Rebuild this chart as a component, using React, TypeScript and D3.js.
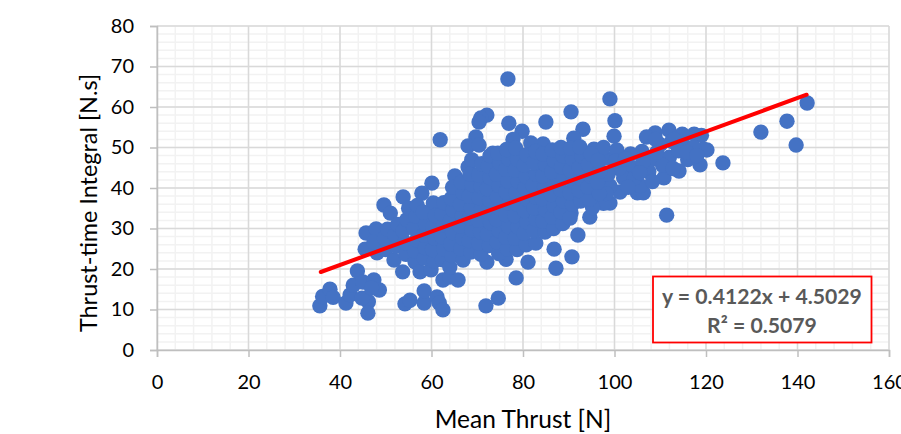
import React, { useEffect, useRef } from "react";
import * as d3 from "d3";

type Pt = [number, number];

const xTicks = [0, 20, 40, 60, 80, 100, 120, 140, 160];
const yTicks = [0, 10, 20, 30, 40, 50, 60, 70, 80];
const xMinor = d3.range(0, 161, 4);
const yMinor = d3.range(0, 81, 2);

const slope = 0.4122;
const intercept = 4.5029;
const trendRange = [35.8, 142];

// mean thrust, thrust-time integral
const lowCluster: Pt[] = [
  [35.6, 10.9], [36.2, 13.2], [37.8, 15], [38.5, 13], [41.3, 11.6], [42.2, 13.6], [42.9, 16], [43.8, 19.5],
  [45, 16.8], [47.4, 17.3], [48.6, 14.8], [46.2, 11.9], [46.1, 9.1], [44.8, 12.8], [46.9, 15.3], [53.7, 19.3],
  [54.2, 11.4], [55.3, 12.3], [58.4, 11.6], [58.4, 14.6], [61.2, 13.1], [61.7, 11.6], [62.5, 9.9], [62.5, 17.3],
  [64, 18], [65.8, 17.3], [71.9, 10.9], [74.6, 12.8], [78.5, 17.8], [81.1, 21.7], [86.8, 24.9], [87.2, 20.2],
  [90.7, 23], [92, 28.4], [94.6, 32.8], [72.1, 21.7], [76.3, 22.4],
];

const upperOutliers: Pt[] = [
  [76.7, 66.9], [99, 62], [100.1, 56.6], [99.9, 52.8], [90.5, 58.8], [85, 56.3], [72.1, 58], [70.8, 57.3],
  [70.4, 56.3], [76.9, 56], [79.8, 54], [77.8, 52], [93.1, 54.5], [91.1, 52.3], [84.4, 50.9], [81.7, 51.1],
  [69.7, 52.6], [68, 50.4], [61.9, 51.9], [73.4, 48.6], [70.4, 50.6], [60.1, 41.2], [57.9, 38.7], [53.8, 37.8],
  [49.6, 35.8], [51, 33.8], [60.4, 36.3], [65.1, 43], [68, 45.2],
];

const rightTail: Pt[] = [
  [123.7, 46.2], [120.2, 49.4], [119.4, 49.6], [119, 53], [117.4, 53.3], [114.8, 53.3], [111.9, 54.3], [108.9, 53.6],
  [107, 52.6], [118.7, 45.7], [114.1, 44.2], [110.8, 42.5], [105, 38.8], [106.3, 38.8], [105.6, 40.6], [101.2, 39],
  [99, 36.3], [111.4, 33.3], [90.5, 33.8], [132, 53.8], [137.7, 56.5], [139.7, 50.6], [142.1, 61],
  [112.5, 51.5], [115.5, 50.2], [110, 50.7], [106, 49], [108, 47], [112, 47.6], [116, 47], [114, 49.2], [103.5, 48.4],
  [104, 45], [107.5, 44], [110.5, 45.6], [102, 42.5], [99, 40.5], [101, 44.8], [98, 47.4], [95.5, 49.6], [97.6, 50],
  [100.5, 49.4], [117.3, 50], [109, 52], [113, 52], [98.6, 43.4], [100.2, 46.6], [102.4, 47.2], [104.3, 42.4],
  [106.2, 46.4], [108.3, 41.6], [97.6, 36.2], [98.2, 38.6], [95.2, 35.2], [103, 40.2], [105.5, 43.8], [109.2, 48.8],
  [112.8, 44.8], [115.8, 48.8], [118, 48],
];

const leftBody: Pt[] = [
  [45.7, 28.9], [47.9, 29.9], [45.5, 24.9], [48.1, 24], [47.4, 26.6], [50, 24.8], [49.7, 27.6], [50.4, 29.8],
  [51.8, 22.2], [52.3, 25.6], [52, 28.4], [52.6, 31], [54.4, 23.6], [54.2, 26.5], [53.8, 29.4], [54.6, 32.2], [55, 35],
  [56.4, 21.8], [56.3, 24.4], [56.7, 27.2], [56.1, 30.1], [56.6, 33], [56.9, 35.7], [57.5, 19.3], [59.9, 19.8],
  [58.4, 22.7], [58.6, 25.3], [58.3, 28.4], [58.7, 31], [58.2, 34], [60.6, 22], [60.2, 24.8], [60.7, 27.6], [60.3, 30.3],
  [60.8, 33.2], [62.4, 22.3], [62.7, 25], [62.2, 28], [62.6, 30.8], [62.3, 33.6], [62.7, 36.4], [64, 20.5],
  [64.5, 23.3], [64.2, 26.2], [64.6, 29], [64.1, 31.8], [64.7, 34.6], [64.3, 37.4], [64.6, 40.2], [66.9, 22.2],
  [66.4, 25], [66.8, 27.6], [66.2, 30.6], [66.7, 33.2], [66.3, 36], [66.9, 38.8], [66.5, 41.4],
];

const midBody: Pt[] = [
  [68.6, 24.2], [68.2, 27], [68.8, 29.7], [68.3, 32.6], [68.7, 35.2], [68.2, 38], [68.9, 40.8], [68.4, 43.4], [68.8, 47],
  [70.8, 23.6], [70.3, 26.4], [70.7, 29.2], [70.2, 32], [70.9, 34.8], [70.4, 37.6], [70.8, 40.4], [70.3, 43.2], [71, 46],
  [72.6, 25.8], [72.2, 28.6], [72.9, 31.4], [72.3, 34.2], [72.7, 37], [72.2, 39.8], [72.8, 42.6], [72.4, 45.4], [72.8, 48],
  [74.7, 23.8], [74.3, 26.7], [74.8, 29.4], [74.2, 32.2], [74.9, 35], [74.4, 37.8], [74.7, 40.6], [74.2, 43.4], [74.9, 46.2], [74.5, 48.6],
  [76.6, 25], [76.2, 27.8], [76.8, 30.5], [76.3, 33.4], [76.9, 36.2], [76.3, 39], [76.7, 41.7], [76.2, 44.6], [76.9, 47.2], [76.4, 49.5],
  [78.7, 24.8], [78.3, 27.6], [78.9, 30.4], [78.2, 33.2], [78.8, 36], [78.4, 38.8], [78.9, 41.6], [78.3, 44.4], [78.8, 47], [78.4, 49.8],
  [80.7, 26], [80.2, 28.8], [80.8, 31.6], [80.3, 34.4], [80.9, 37.2], [80.4, 40], [80.7, 42.8], [80.2, 45.6], [80.8, 48.2],
  [82.8, 26.4], [82.3, 29.4], [82.9, 32.2], [82.4, 35], [82.8, 37.8], [82.2, 40.6], [82.9, 43.4], [82.3, 46.2], [82.8, 49],
  [84.8, 29.1], [84.3, 31.8], [84.9, 34.6], [84.2, 37.4], [84.7, 40.2], [84.3, 43], [84.9, 45.8], [84.4, 48.4],
  [86.7, 30], [86.3, 32.8], [86.8, 35.6], [86.2, 38.4], [86.9, 41.2], [86.3, 44], [86.8, 46.8], [86.4, 49.4],
  [88.7, 31.2], [88.3, 34], [88.8, 36.8], [88.2, 39.6], [88.9, 42.4], [88.4, 45.2], [88.7, 48], [88.3, 50],
  [90.3, 32.6], [90.8, 36], [90.2, 38.8], [90.9, 41.6], [90.3, 44.4], [90.8, 47.2], [90.4, 49.8],
  [92.6, 36.8], [92.2, 39.4], [92.8, 42.2], [92.3, 45], [92.9, 47.8], [92.4, 50.2],
  [94.6, 37.2], [94.2, 40.2], [94.8, 43], [94.3, 45.8], [94.9, 48.4],
  [96.7, 38.6], [96.3, 41.4], [96.8, 44.2], [96.4, 46.8],
];

const allPoints: Pt[] = [...lowCluster, ...upperOutliers, ...rightTail, ...leftBody, ...midBody];

const W = 901;
const H = 434;
const FONT = "Lato, 'Open Sans', sans-serif";

export default function App() {
  const svgRef = useRef<SVGSVGElement>(null);

  useEffect(() => {
    const svg = d3.select(svgRef.current);
    svg.selectAll("*").remove();

    const x = d3.scaleLinear().domain([0, 160]).range([157, 889]);
    const y = d3.scaleLinear().domain([0, 80]).range([350, 26]);

    // gridlines, minor first
    const grid = svg.append("g");
    grid.selectAll("line.minx").data(xMinor).join("line").attr("class", "minx")
      .attr("x1", d => x(d)).attr("x2", d => x(d)).attr("y1", y(0)).attr("y2", y(80))
      .attr("stroke", "#f2f2f2").attr("stroke-width", 1.5);
    grid.selectAll("line.miny").data(yMinor).join("line").attr("class", "miny")
      .attr("x1", x(0)).attr("x2", x(160)).attr("y1", d => y(d)).attr("y2", d => y(d))
      .attr("stroke", "#f2f2f2").attr("stroke-width", 1.5);
    grid.selectAll("line.majx").data(xTicks).join("line").attr("class", "majx")
      .attr("x1", d => x(d)).attr("x2", d => x(d)).attr("y1", y(0)).attr("y2", y(80))
      .attr("stroke", "#d9d9d9").attr("stroke-width", 1.5);
    grid.selectAll("line.majy").data(yTicks).join("line").attr("class", "majy")
      .attr("x1", x(0)).attr("x2", x(160)).attr("y1", d => y(d)).attr("y2", d => y(d))
      .attr("stroke", "#d9d9d9").attr("stroke-width", 1.5);

    // axes
    const xAxis = d3.axisBottom(x).tickValues(xTicks).tickSize(7).tickPadding(18).tickFormat(d => String(d));
    const yAxis = d3.axisLeft(y).tickValues(yTicks).tickSize(7).tickPadding(16).tickFormat(d => String(d));
    const gx = svg.append("g").attr("transform", `translate(0,${y(0)})`).call(xAxis);
    const gy = svg.append("g").attr("transform", `translate(${x(0)},0)`).call(yAxis);
    [gx, gy].forEach(g => {
      g.selectAll("path").attr("stroke", "#bfbfbf").attr("stroke-width", 1.5);
      g.selectAll("line").attr("stroke", "#bfbfbf").attr("stroke-width", 1.5);
      g.selectAll("text").attr("fill", "#000").style("font-family", FONT).style("font-size", "20px");
    });

    // points
    svg.append("g").selectAll("circle").data(allPoints).join("circle")
      .attr("cx", d => x(d[0])).attr("cy", d => y(d[1])).attr("r", 7.7).attr("fill", "#4472c4");

    // trendline
    const line = d3.line<number>().x(d => x(d)).y(d => y(slope * d + intercept));
    svg.append("path").attr("d", line(trendRange)).attr("fill", "none")
      .attr("stroke", "#ff0000").attr("stroke-width", 4).attr("stroke-linecap", "round");

    // axis titles
    svg.append("text").attr("x", 523).attr("y", 428).attr("text-anchor", "middle")
      .style("font-family", FONT).style("font-size", "24.5px").text("Mean Thrust [N]");
    svg.append("text").attr("transform", "translate(97,203) rotate(-90)").attr("text-anchor", "middle")
      .style("font-family", FONT).style("font-size", "23.4px").text("Thrust-time Integral [N.s]");

    // equation box
    svg.append("rect").attr("x", 653).attr("y", 276.5).attr("width", 218.5).attr("height", 66)
      .attr("fill", "#fff").attr("stroke", "#ff0000").attr("stroke-width", 1.8);
    const label = svg.append("g").attr("text-anchor", "middle").attr("fill", "#595959")
      .style("font-family", FONT).style("font-size", "21.2px").style("font-weight", 700);
    label.append("text").attr("x", 762).attr("y", 304).text(`y = ${slope}x + ${intercept}`);
    label.append("text").attr("x", 762).attr("y", 333).text("R² = 0.5079");
  }, []);

  return (
    <svg ref={svgRef} width={W} height={H} style={{ position: "absolute", left: 0, top: 0, background: "#fff" }} />
  );
}
